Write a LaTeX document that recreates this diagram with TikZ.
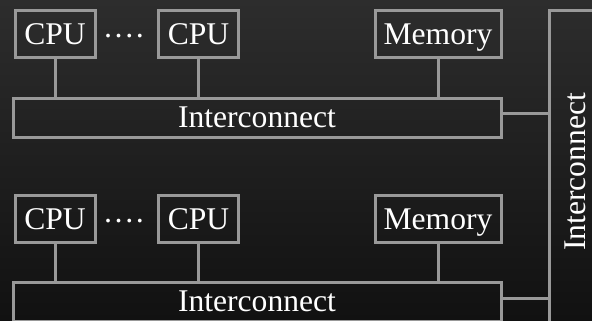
\documentclass[tikz,border=0pt]{standalone}
\usepackage{fontspec}
\setmainfont{Liberation Serif}
\usetikzlibrary{positioning, calc}
\definecolor{edgegray}{HTML}{999999}
\definecolor{bgtop}{HTML}{2D2D2D}
\definecolor{bgbot}{HTML}{111111}
\tikzset{
  unit/.style   = {rectangle, draw=edgegray, line width=1.5pt, outer sep=0pt,
                   inner sep=2pt, text=white, text height=10.5pt, text depth=0pt,
                   font=\fontsize{15.8}{18}\selectfont},
  cpu/.style    = {unit, minimum width=40pt, minimum height=23.5pt},
  mem/.style    = {unit, minimum width=63pt, minimum height=23.5pt},
  bus/.style    = {unit, minimum width=244pt, minimum height=19.3pt, text depth=1.5pt},
  sysbus/.style = {unit, rotate=90, minimum width=161.5pt, minimum height=26pt},
  dots/.style   = {text=white, font=\fontsize{15.8}{18}\selectfont, inner sep=0pt,
                   anchor=base},
  link/.style   = {draw=edgegray, line width=1.5pt},
}

\begin{document}
\begin{tikzpicture}[x=0.5pt, y=0.5pt]
  \useasboundingbox (0,0) rectangle (592,-320);
  \clip (0,0) rectangle (592,-320);
  \fill[top color=bgtop, bottom color=bgbot] (0,0) rectangle (592,-320);

  % first node
  \node[cpu]  (cpuA)  at (55,-34.5)   {CPU};
  \node[dots] (dotsA) at (124,-47)    {····};
  \node[cpu]  (cpuB)  at (198.5,-34.5) {CPU};
  \node[mem]  (memA)  at (438,-34.5)  {Memory};
  \node[bus]  (busA)  at (257,-118)   {Interconnect};

  % second node
  \node[cpu]  (cpuC)  at (55,-218.5)   {CPU};
  \node[dots] (dotsB) at (124,-231)    {····};
  \node[cpu]  (cpuD)  at (198.5,-218.5) {CPU};
  \node[mem]  (memB)  at (438,-218.5)  {Memory};
  \node[bus]  (busB)  at (257,-302)    {Interconnect};

  \node[sysbus] (sys) at (575,-172) {Interconnect};

  \draw[link] (cpuA.south) -- (cpuA.south |- busA.north);
  \draw[link] (cpuB.south) -- (cpuB.south |- busA.north);
  \draw[link] (memA.south) -- (memA.south |- busA.north);
  \draw[link] (cpuC.south) -- (cpuC.south |- busB.north);
  \draw[link] (cpuD.south) -- (cpuD.south |- busB.north);
  \draw[link] (memB.south) -- (memB.south |- busB.north);

  \draw[link] ([yshift=2pt]busA.east) -- ([yshift=2pt]busA.east -| sys.north);
  \draw[link] ([yshift=2pt]busB.east) -- ([yshift=2pt]busB.east -| sys.north);
\end{tikzpicture}
\end{document}
